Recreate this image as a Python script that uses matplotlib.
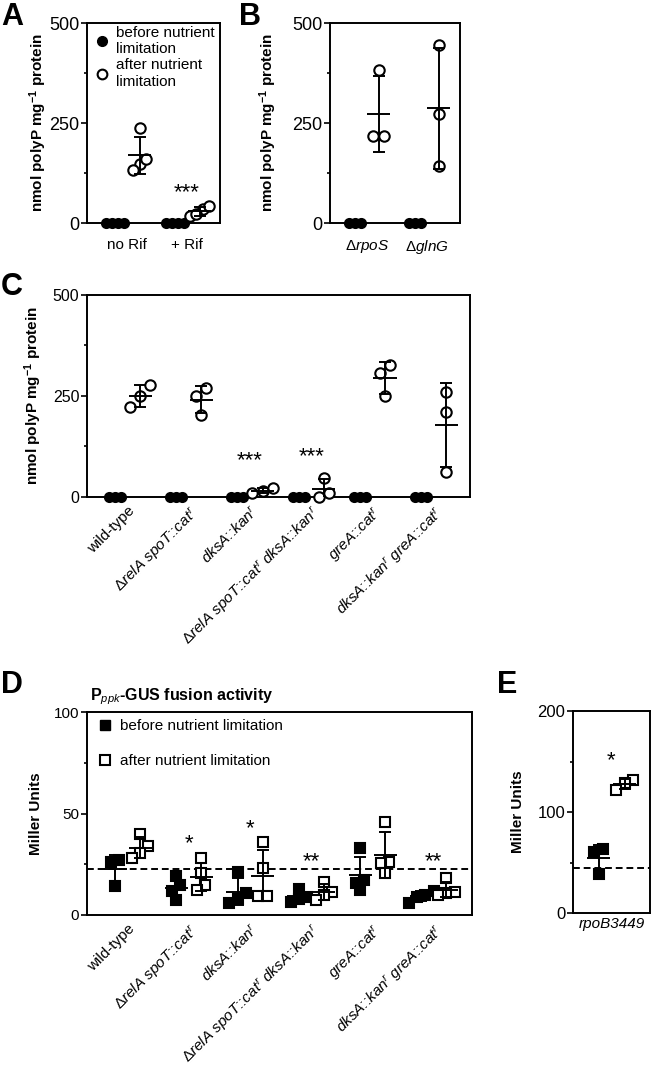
import matplotlib
matplotlib.use("Agg")
import matplotlib.pyplot as plt
import matplotlib.lines as mlines
import numpy as np

plt.rcParams['font.family'] = ['Liberation Sans', 'DejaVu Sans']
plt.rcParams['mathtext.fontset'] = 'custom'
plt.rcParams['mathtext.rm'] = 'Liberation Sans'
plt.rcParams['mathtext.it'] = 'Liberation Sans:italic'
plt.rcParams['mathtext.bf'] = 'Liberation Sans:bold'

#-------------------------------
# data (nmol polyP / mg protein, Miller units)
a_groups = ["no Rif", "+ Rif"]
a_before = [[0, 0, 0, 0], [0, 0, 0, 0]]
a_after = [[148, 237, 161, 132], [36, 17, 23, 42]]
a_stars = ["", "***"]
a_star_y = [0, 94]

b_groups = ["Δ$\\mathit{rpoS}$", "Δ$\\mathit{glnG}$"]
b_before = [[0, 0, 0], [0, 0, 0]]
b_after = [[217, 382, 217], [142, 273, 444]]

strains = ["wild-type",
           "Δ$\\mathit{relA\\ spoT}$::$\\mathit{cat}^{r}$",
           "$\\mathit{dksA}$::$\\mathit{kan}^{r}$",
           "Δ$\\mathit{relA\\ spoT}$::$\\mathit{cat}^{r}$ $\\mathit{dksA}$::$\\mathit{kan}^{r}$",
           "$\\mathit{greA}$::$\\mathit{cat}^{r}$",
           "$\\mathit{dksA}$::$\\mathit{kan}^{r}$ $\\mathit{greA}$::$\\mathit{cat}^{r}$"]
c_before = [[0, 0, 0]] * 6
c_after = [[224, 277, 250], [269, 203, 250], [22, 14, 10],
           [0, 47, 10], [326, 250, 307], [63, 211, 261]]
c_stars = ["", "", "***", "***", "", ""]
c_star_y = [0, 0, 107, 117, 0, 0]

d_before = [[27, 26, 14.5], [19, 15, 12, 7.5], [21, 11, 8, 6],
            [13, 9, 8, 6.5], [32.8, 17.2, 16, 12.3], [12, 10, 9, 6]]
d_after = [[40, 34, 30.5, 28], [27.9, 20.5, 14.8, 12.3], [36, 23, 9.4, 9.4],
           [16.4, 11.5, 9.9, 7.4], [46, 26.3, 25.4, 20.5], [18, 11.5, 10.7, 9.9]]
d_stars = ["", "*", "*", "**", "", "**"]
d_star_y = [0, 39, 46, 30, 0, 30]
d_dashed = 22.5

e_groups = ["rpoB3449"]
e_before = [[63, 60, 39]]
e_after = [[132, 129, 122]]
e_stars = ["*"]
e_star_y = [158]
e_dashed = 45

#-------------------------------
W, H = 651, 1066
fig = plt.figure(figsize=(W / 100, H / 100), dpi=100)


def px_axes(x0, y0, x1, y1):
    return fig.add_axes([x0 / W, 1 - y1 / H, (x1 - x0) / W, (y1 - y0) / H])


def spread(vals, step, tol):
    vals = np.asarray(vals, float)
    order = np.argsort(vals, kind="stable")
    offs = np.zeros(len(vals))
    clusters, cur = [], [order[0]]
    for a, b in zip(order[:-1], order[1:]):
        if vals[b] - vals[a] <= tol:
            cur.append(b)
        else:
            clusters.append(cur)
            cur = [b]
    clusters.append(cur)
    for c in clusters:
        k = len(c)
        offs[c] = (np.arange(k) - (k - 1) / 2) * step
    return offs


def column(ax, x, vals, filled, marker, ms, step, tol):
    offs = spread(vals, step, tol)
    ax.plot(x + offs, vals, ls="none", marker=marker, ms=ms,
            mfc="black" if filled else "white", mec="black", mew=1.5,
            clip_on=False, zorder=3)
    m = np.mean(vals)
    sd = np.std(vals, ddof=1)
    ax.errorbar(x, m, yerr=sd, fmt="none", ecolor="black", elinewidth=1.4,
                capsize=4.3, capthick=1.4, zorder=4)
    ax.hlines(m, x - 0.46, x + 0.46, color="black", lw=1.4, zorder=4)


def style(ax, ylim, major, minor, xmax, ysize):
    ax.set_xlim(0, xmax)
    ax.set_ylim(*ylim)
    ax.set_yticks(major)
    ax.set_yticks(minor, minor=True)
    for s in ax.spines.values():
        s.set_linewidth(1.4)
    ax.tick_params(axis="y", which="major", length=4, width=1.2, pad=1.5, labelsize=ysize)
    ax.tick_params(axis="y", which="minor", length=2.5, width=1.2)
    ax.tick_params(axis="x", length=0, labelsize=11)


def stars(ax, xs, labels, ys, size=16):
    for x, s, y in zip(xs, labels, ys):
        if s:
            ax.annotate(s, (x, y), xytext=(0, -0.58 * size), textcoords="offset points",
                        ha="center", va="baseline", fontsize=size)


# ---------- A ----------
ax = px_axes(87, 23, 220, 223)
pos = np.array([1.1, 3.5])
for i in range(2):
    column(ax, pos[i], a_before[i], True, "o", 6.5, 0.24, 1)
    column(ax, pos[i] + 1, a_after[i], False, "o", 7.5, 0.25, 25)
style(ax, (0, 500), [0, 250, 500], [125, 375], 5.32, 13)
ax.set_xticks(pos + 0.5)
ax.set_xticklabels(a_groups)
ax.tick_params(axis="x", pad=11)
stars(ax, pos + 0.5, a_stars, a_star_y)
ax.set_ylabel("nmol polyP mg$^{\\mathbf{-1}}$ protein", fontweight="bold", fontsize=11)
ax.yaxis.set_label_coords((49 - 87) / 133, 0.5)
h1 = mlines.Line2D([], [], ls="none", marker="o", ms=7, mfc="black", mec="black")
h2 = mlines.Line2D([], [], ls="none", marker="o", ms=7, mfc="white", mec="black", mew=1.5)
ax.legend([h1, h2], ["before nutrient\nlimitation", "after nutrient\nlimitation"],
          loc="upper left", bbox_to_anchor=(0.068, 0.985), frameon=False, fontsize=11,
          handlelength=0.8, handletextpad=0.5, labelspacing=0.15, borderpad=0,
          borderaxespad=0)

# ---------- B ----------
ax = px_axes(330, 23, 460, 223)
pos = np.array([1.0, 3.4])
for i in range(2):
    column(ax, pos[i], b_before[i], True, "o", 6.5, 0.24, 1)
    column(ax, pos[i] + 0.95, b_after[i], False, "o", 7.5, 0.45, 25)
style(ax, (0, 500), [0, 250, 500], [125, 375], 5.2, 13)
ax.set_xticks(pos + 0.48)
ax.set_xticklabels(b_groups)
ax.tick_params(axis="x", pad=11)
ax.set_ylabel("nmol polyP mg$^{\\mathbf{-1}}$ protein", fontweight="bold", fontsize=11)
ax.yaxis.set_label_coords((279 - 330) / 130, 0.5)

# ---------- C ----------
ax = px_axes(87, 295, 470, 497)
pos = 1.12 + 2.45 * np.arange(len(strains))
for i in range(len(strains)):
    column(ax, pos[i], c_before[i], True, "o", 6.5, 0.24, 1)
    column(ax, pos[i] + 1, c_after[i], False, "o", 7.5, 0.4, 30)
style(ax, (0, 500), [0, 250, 500], [125, 375], 15.32, 11.5)
ax.set_xticks(pos + 0.5)
ax.set_xticklabels(strains, rotation=45, ha="right", va="top", rotation_mode="anchor")
ax.tick_params(axis="x", pad=5)
stars(ax, pos + 0.5, c_stars, c_star_y)
ax.set_ylabel("nmol polyP mg$^{\\mathbf{-1}}$ protein", fontweight="bold", fontsize=11)
ax.yaxis.set_label_coords((44 - 87) / 383, 0.5)

# ---------- D ----------
ax = px_axes(87, 712, 472, 915)
pos = 1.12 + 2.45 * np.arange(len(strains))
ax.axhline(d_dashed, color="black", lw=1.4, ls=(0, (3.5, 2)), zorder=2)
for i in range(len(strains)):
    column(ax, pos[i], d_before[i], True, "s", 7, 0.33, 3.5)
    column(ax, pos[i] + 1, d_after[i], False, "s", 7, 0.33, 3.5)
style(ax, (0, 100), [0, 50, 100], [25, 75], 15.4, 11)
ax.set_xticks(pos + 0.5)
ax.set_xticklabels(strains, rotation=45, ha="right", va="top", rotation_mode="anchor")
ax.tick_params(axis="x", pad=5)
stars(ax, pos + 0.5, d_stars, d_star_y)
ax.set_ylabel("Miller Units", fontweight="bold", fontsize=11)
ax.yaxis.set_label_coords((43 - 87) / 385, 0.5)
ax.text(0.008, 1.06, "P$_{\\mathit{ppk}}$-GUS fusion activity", transform=ax.transAxes,
        fontweight="bold", fontsize=11.5, va="baseline")
h1 = mlines.Line2D([], [], ls="none", marker="s", ms=7, mfc="black", mec="black")
h2 = mlines.Line2D([], [], ls="none", marker="s", ms=7, mfc="white", mec="black", mew=1.5)
ax.legend([h1, h2], ["before nutrient limitation", "after nutrient limitation"],
          loc="upper left", bbox_to_anchor=(0.031, 0.965), frameon=False, fontsize=11,
          handlelength=0.8, handletextpad=0.6, labelspacing=1.4, borderpad=0,
          borderaxespad=0)

# ---------- E ----------
ax = px_axes(573, 711, 650, 913)
pos = np.array([1.02])
ax.axhline(e_dashed, color="black", lw=1.4, ls=(0, (3.5, 2)), zorder=2)
column(ax, pos[0], e_before[0], True, "s", 7, 0.33, 7)
column(ax, pos[0] + 1.04, e_after[0], False, "s", 7, 0.33, 7)
style(ax, (0, 200), [0, 100, 200], [50, 150], 3.08, 12)
ax.set_xticks(pos + 0.52)
ax.set_xticklabels(e_groups, fontstyle="italic")
ax.tick_params(axis="x", pad=3)
stars(ax, pos + 0.52, e_stars, e_star_y)
ax.set_ylabel("Miller Units", fontweight="bold", fontsize=11)
ax.yaxis.set_label_coords((525 - 573) / 77, 0.5)

# panel letters
for letter, x, y in [("A", 1, 25), ("B", 239, 25), ("C", 1, 295), ("D", 1, 693), ("E", 497, 693)]:
    fig.text(x / W, 1 - y / H, letter, fontsize=22, fontweight="bold", va="baseline")

fig.savefig("out.png", dpi=100)
